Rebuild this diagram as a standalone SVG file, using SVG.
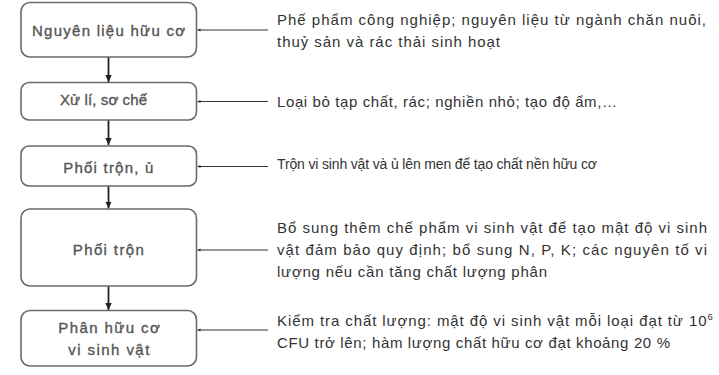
<svg xmlns="http://www.w3.org/2000/svg" width="719" height="375" viewBox="0 0 719 375">
<style>
.box{fill:#fff;stroke:#6a6a6a;stroke-width:1.6}
.bt{font-family:"Liberation Sans",Arial,sans-serif;font-size:15px;fill:#555;stroke:#555;stroke-width:0.35;text-anchor:middle}
.rt{font-family:"Liberation Sans",Arial,sans-serif;font-size:15px;fill:#333}
.v{stroke:#222;stroke-width:1.8;fill:none}
.h{stroke:#333;stroke-width:1;fill:none}
</style>
<defs>
<marker id="av" markerWidth="8" markerHeight="8" refX="7" refY="4" orient="auto" markerUnits="userSpaceOnUse">
<path d="M0,0.8 L7,4 L0,7.2 Z" fill="#222"/>
</marker>
<marker id="ah" markerWidth="4" markerHeight="4" refX="3" refY="2" orient="auto" markerUnits="userSpaceOnUse">
<path d="M0,0.5 L3,2 L0,3.5 Z" fill="#333"/>
</marker>
</defs>
<g id="connectors">
<line class="v" x1="108.5" y1="57" x2="108.5" y2="82" marker-end="url(#av)"/>
<line class="v" x1="108.5" y1="120" x2="108.5" y2="145" marker-end="url(#av)"/>
<line class="v" x1="108.5" y1="186" x2="108.5" y2="208.5" marker-end="url(#av)"/>
<line class="v" x1="108.5" y1="286" x2="108.5" y2="310" marker-end="url(#av)"/>
<line class="h" x1="268" y1="30" x2="197.5" y2="30" marker-end="url(#ah)"/>
<line class="h" x1="268" y1="101.5" x2="197.5" y2="101.5" marker-end="url(#ah)"/>
<line class="h" x1="268" y1="166.5" x2="197.5" y2="166.5" marker-end="url(#ah)"/>
<line class="h" x1="268" y1="250" x2="197.5" y2="250" marker-end="url(#ah)"/>
<line class="h" x1="268" y1="330" x2="197.5" y2="330" marker-end="url(#ah)"/>
</g>
<g id="n1">
<rect class="box" x="21" y="2.5" width="175.5" height="54.5" rx="9"/>
<text class="bt" x="108.5" y="36" textLength="153" lengthAdjust="spacing">Nguyên liệu hữu cơ</text>
<text class="rt" x="277" y="25" textLength="429" lengthAdjust="spacing">Phế phẩm công nghiệp; nguyên liệu từ ngành chăn nuôi,</text>
<text class="rt" x="277" y="47" textLength="223" lengthAdjust="spacing">thuỷ sản và rác thải sinh hoạt</text>
</g>
<g id="n2">
<rect class="box" x="21" y="82.5" width="175.5" height="37.5" rx="8"/>
<text class="bt" x="103.5" y="104.5" textLength="87" lengthAdjust="spacing">Xử lí, sơ chế</text>
<text class="rt" x="277" y="107" textLength="340" lengthAdjust="spacing">Loại bỏ tạp chất, rác; nghiền nhỏ; tạo độ ẩm,…</text>
</g>
<g id="n3">
<rect class="box" x="21" y="146" width="175.5" height="40" rx="8"/>
<text class="bt" x="108.3" y="172.5" textLength="90" lengthAdjust="spacing">Phối trộn, ủ</text>
<text class="rt" x="277" y="169" textLength="320" lengthAdjust="spacing" style="font-size:14px">Trộn vi sinh vật và ủ lên men để tạo chất nền hữu cơ</text>
</g>
<g id="n4">
<rect class="box" x="21" y="209" width="175.5" height="77" rx="9"/>
<text class="bt" x="108.3" y="255" textLength="71" lengthAdjust="spacing">Phối trộn</text>
<text class="rt" x="277" y="232.5" textLength="430" lengthAdjust="spacing">Bổ sung thêm chế phẩm vi sinh vật để tạo mật độ vi sinh</text>
<text class="rt" x="277" y="255" textLength="430" lengthAdjust="spacing">vật đảm bảo quy định; bổ sung N, P, K; các nguyên tố vi</text>
<text class="rt" x="277" y="277" textLength="270" lengthAdjust="spacing">lượng nếu cần tăng chất lượng phân</text>
</g>
<g id="n5">
<rect class="box" x="21" y="310.5" width="175.5" height="55.5" rx="9"/>
<text class="bt" x="109" y="332.5" textLength="101.5" lengthAdjust="spacing">Phân hữu cơ</text>
<text class="bt" x="108.8" y="354.5" textLength="81" lengthAdjust="spacing">vi sinh vật</text>
<text class="rt" x="277" y="326" textLength="429.5" lengthAdjust="spacing">Kiểm tra chất lượng: mật độ vi sinh vật mỗi loại đạt từ 10</text>
<text class="rt" x="707.5" y="320" style="font-size:9.5px">6</text>
<text class="rt" x="277" y="348" textLength="393" lengthAdjust="spacing">CFU trở lên; hàm lượng chất hữu cơ đạt khoảng 20 %</text>
</g>
</svg>
